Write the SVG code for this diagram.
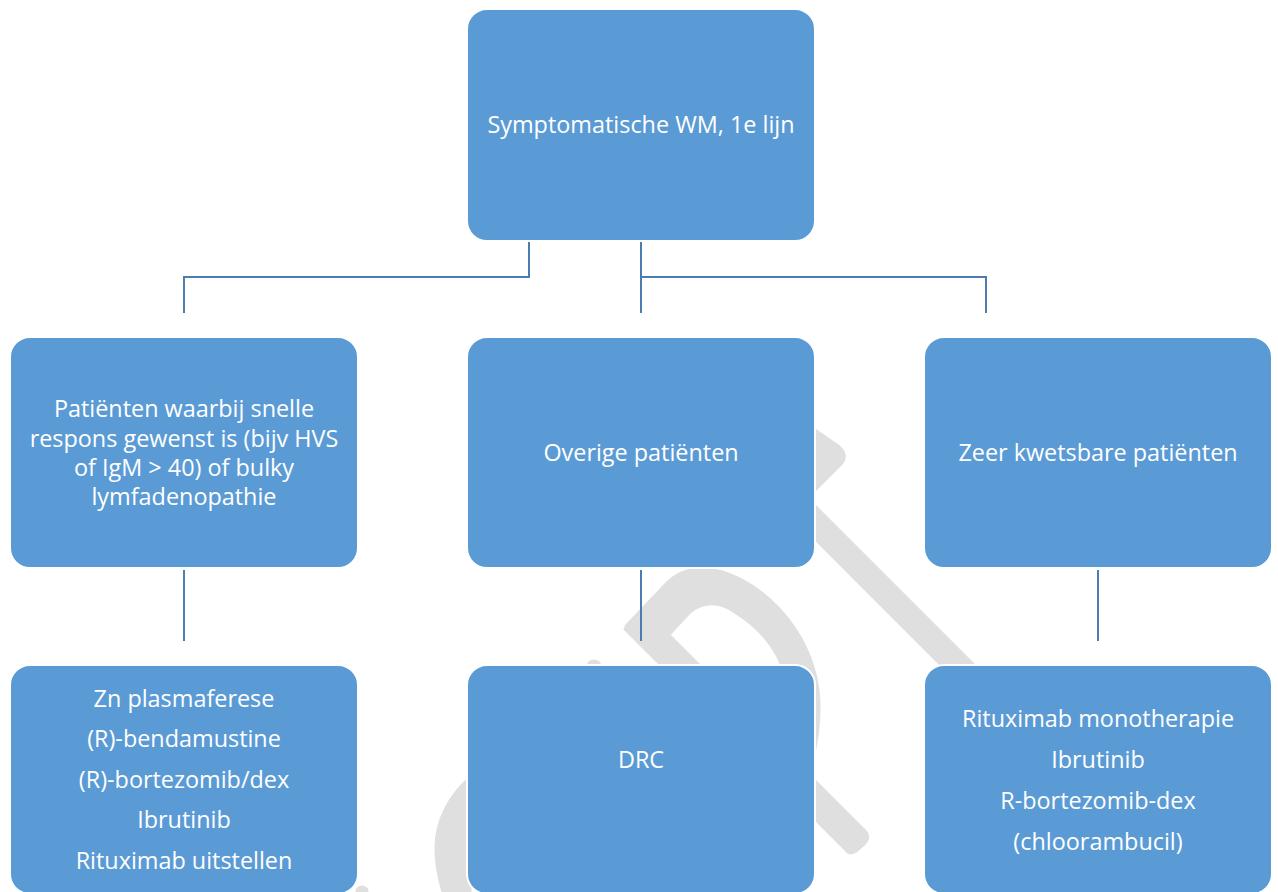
<svg xmlns="http://www.w3.org/2000/svg" width="1278" height="892" viewBox="0 0 1278 892">
  <style>
    .wm { fill: #dfdfdf; stroke: #dfdfdf; stroke-width: 3; stroke-linejoin: round; }
    .wmline { fill: none; stroke: #dfdfdf; stroke-width: 26; }
    .conn { fill: none; stroke: #4a7eb0; stroke-width: 2; }
    .box { fill: #5b9bd5; stroke: #ffffff; stroke-width: 2; }
    .lbl { fill: #ffffff; font-family: "Open Sans", "Liberation Sans", sans-serif; font-size: 23.4px; text-anchor: middle; }
  </style>
  <rect x="0" y="0" width="1278" height="892" fill="#ffffff"/>
  <g id="watermark">
    <line class="wmline" x1="770" y1="477.5" x2="1010" y2="717.5"/>
    <path class="wm" d="M812,428 L838,446 Q849,455 841,464 L812,493 Z"/>
    <path class="wm" d="M644,610 L866,832 Q870,838 864,844 L856,851 Q850,855 846,850 L625,629 Z"/>
    <path class="wm" d="M626,626 L668,582 C690,562 720,566 752,586 C785,608 812,645 818,690 C821,715 818,740 810,770 L780,770 L786,680 C780,650 760,628 735,612 C718,600 702,602 690,612 L664,640 Z"/>
    <ellipse class="wm" cx="594" cy="666" rx="6" ry="5"/>
    <path class="wm" d="M470,778 C450,795 436,820 436,848 C436,865 439,880 444,895 L470,895 Z"/>
    <ellipse class="wm" cx="362" cy="891" rx="5" ry="4"/>
  </g>
  <g id="connectors">
    <polyline class="conn" points="529,242 529,277 184,277 184,313"/>
    <line class="conn" x1="641" y1="242" x2="641" y2="313"/>
    <polyline class="conn" points="641,277 986,277 986,313"/>
    <line class="conn" x1="184" y1="570" x2="184" y2="641"/>
    <line class="conn" x1="641" y1="570" x2="641" y2="641"/>
    <line class="conn" x1="1098" y1="570" x2="1098" y2="641"/>
  </g>
  <g id="node-top">
    <rect class="box" x="467" y="9" width="348" height="232" rx="20"/>
    <text class="lbl" x="641" y="133">Symptomatische WM, 1e lijn</text>
  </g>
  <g id="node-snel">
    <rect class="box" x="10" y="337" width="348" height="231" rx="20"/>
    <text class="lbl" x="184" y="417">Patiënten waarbij snelle</text>
    <text class="lbl" x="184" y="447">respons gewenst is (bijv HVS</text>
    <text class="lbl" x="184" y="476">of IgM &gt; 40) of bulky</text>
    <text class="lbl" x="184" y="505">lymfadenopathie</text>
  </g>
  <g id="node-overig">
    <rect class="box" x="467" y="337" width="348" height="231" rx="20"/>
    <text class="lbl" x="641" y="461">Overige patiënten</text>
  </g>
  <g id="node-kwetsbaar">
    <rect class="box" x="924" y="337" width="348" height="231" rx="20"/>
    <text class="lbl" x="1098" y="461">Zeer kwetsbare patiënten</text>
  </g>
  <g id="node-snel-tx">
    <rect class="box" x="10" y="665" width="348" height="229" rx="20"/>
    <text class="lbl" x="184" y="707">Zn plasmaferese</text>
    <text class="lbl" x="184" y="747">(R)-bendamustine</text>
    <text class="lbl" x="184" y="788">(R)-bortezomib/dex</text>
    <text class="lbl" x="184" y="828">Ibrutinib</text>
    <text class="lbl" x="184" y="869">Rituximab uitstellen</text>
  </g>
  <g id="node-drc">
    <rect class="box" x="467" y="665" width="348" height="229" rx="20"/>
    <text class="lbl" x="641" y="768">DRC</text>
  </g>
  <g id="node-kwetsbaar-tx">
    <rect class="box" x="924" y="665" width="348" height="229" rx="20"/>
    <text class="lbl" x="1098" y="727">Rituximab monotherapie</text>
    <text class="lbl" x="1098" y="768">Ibrutinib</text>
    <text class="lbl" x="1098" y="809">R-bortezomib-dex</text>
    <text class="lbl" x="1098" y="850">(chloorambucil)</text>
  </g>
</svg>
